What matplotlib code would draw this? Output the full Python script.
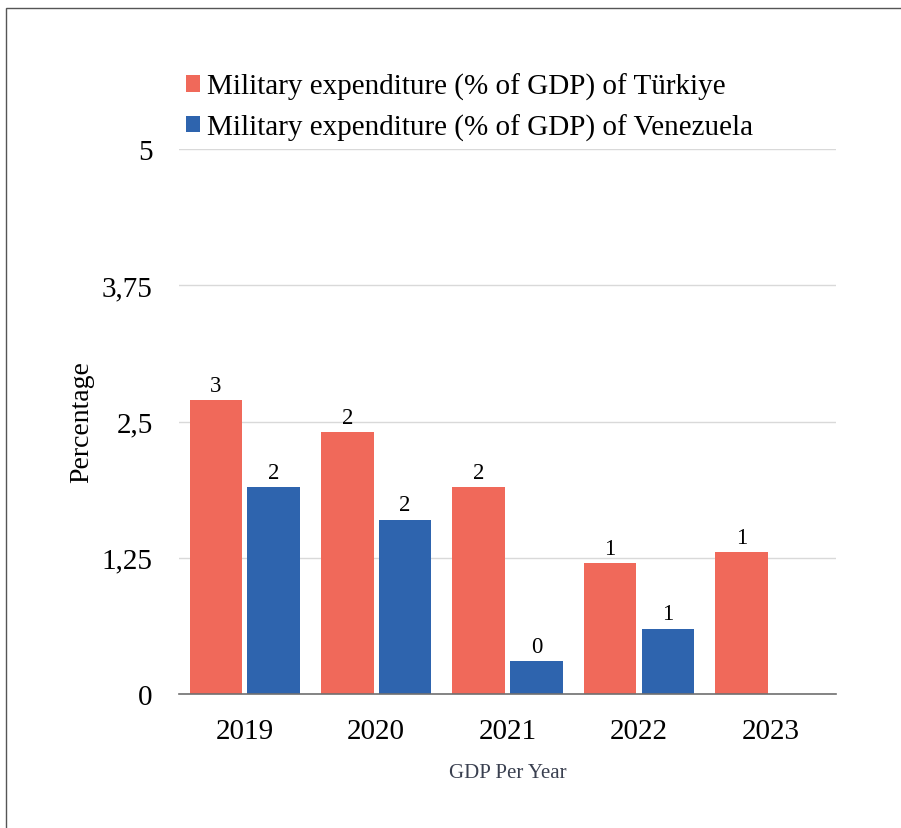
import numpy as np
import matplotlib.pyplot as plt
from matplotlib.patches import Rectangle

plt.rcParams['font.family'] = ['Liberation Serif', 'DejaVu Serif']

years = ['2019', '2020', '2021', '2022', '2023']
turkiye = [2.7, 2.4, 1.9, 1.2, 1.3]
venezuela = [1.9, 1.6, 0.3, 0.6, None]
yticks = [0, 1.25, 2.5, 3.75, 5]
ytick_labels = ['0', '1,25', '2,5', '3,75', '5']

red = '#F0695A'
blue = '#2E64AE'

fig = plt.figure(figsize=(9.01, 8.29), dpi=100)
ax = fig.add_axes([0.1987, 0.1616, 0.7293, 0.6574])

x = np.arange(len(years))
w = 0.40
off = 0.22

tur_bars = ax.bar(x - off, turkiye, w, color=red, label='Military expenditure (% of GDP) of Türkiye', zorder=3)
ven_x = [xi + off for xi, v in zip(x, venezuela) if v is not None]
ven_v = [v for v in venezuela if v is not None]
ven_bars = ax.bar(ven_x, ven_v, w, color=blue, label='Military expenditure (% of GDP) of Venezuela', zorder=3)

# value labels, rounded to whole numbers
for bars in (tur_bars, ven_bars):
    for b in bars:
        h = b.get_height()
        ax.annotate(f'{h:.0f}', (b.get_x() + b.get_width() / 2, h), xytext=(0, 3),
                    textcoords='offset points', ha='center', va='bottom', fontsize=16.5)

ax.set_xlim(-0.5, 4.5)
ax.set_ylim(0, 5)
ax.set_yticks(yticks)
ax.set_yticklabels(ytick_labels, fontsize=21)
ax.set_xticks(x)
ax.set_xticklabels(years, fontsize=21)
ax.tick_params(length=0)
ax.tick_params(axis='y', pad=19)
ax.tick_params(axis='x', pad=17)

ax.grid(axis='y', color='#D9D9D9', linewidth=1, zorder=0)
for s in ['top', 'right', 'left']:
    ax.spines[s].set_visible(False)
ax.spines['bottom'].set_color('#707070')
ax.spines['bottom'].set_linewidth(1.2)
ax.spines['bottom'].set_zorder(4)

ax.set_ylabel('Percentage', fontsize=20, labelpad=5)
ax.set_xlabel('GDP Per Year', fontsize=15, color='#3A4050', labelpad=14)

fig.legend(loc='upper left', bbox_to_anchor=(0.193, 0.925), frameon=False,
           fontsize=21, handlelength=0.5, handleheight=0.5, handletextpad=0.25,
           labelspacing=0.45, borderaxespad=0)

# thin frame around the figure
fig.patches.append(Rectangle((6 / 901, -0.05), 1.2, 1.05 - 9 / 829,
                             transform=fig.transFigure, fill=False,
                             edgecolor='#555555', linewidth=1, clip_on=False))

fig.savefig('out.png', dpi=100)
